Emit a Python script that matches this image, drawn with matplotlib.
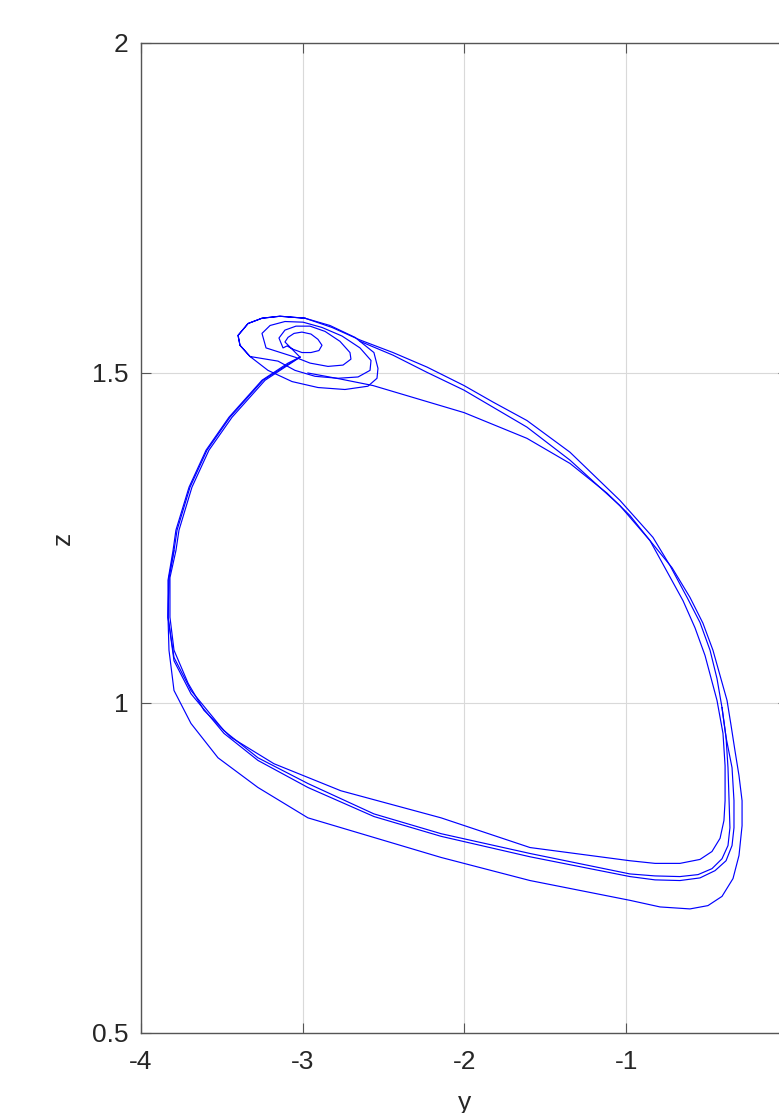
import numpy as np
import matplotlib.pyplot as plt

plt.rcParams['font.family'] = ['Liberation Sans', 'DejaVu Sans']
plt.rcParams['axes.unicode_minus'] = False

# spiral around the focus (inner ring first), ends where the top band starts
spiral_y = [-3.017,
            -3.110, -3.091, -3.054, -3.005, -2.949, -2.906, -2.881, -2.900, -2.949, -3.005, -3.060, -3.097,
            -3.122, -3.147, -3.110, -3.042, -2.955, -2.862, -2.770, -2.708, -2.702, -2.751, -2.844, -2.955, -3.048,
            -3.227, -3.252, -3.202, -3.110, -2.998, -2.881, -2.757, -2.646, -2.578, -2.584, -2.658, -2.782, -2.924, -3.048, -3.153,
            -3.326, -3.388, -3.400, -3.338, -3.252, -3.141, -2.986, -2.832, -2.677, -2.560, -2.535, -2.541, -2.597, -2.739, -2.906, -3.066, -3.215,
            -3.326, -3.388, -3.400, -3.338, -3.252, -3.141, -2.986]
spiral_z = [1.524,
            1.547, 1.554, 1.560, 1.562, 1.559, 1.551, 1.542, 1.534, 1.531, 1.531, 1.536, 1.541,
            1.538, 1.553, 1.565, 1.571, 1.571, 1.563, 1.548, 1.531, 1.521, 1.512, 1.510, 1.515, 1.524,
            1.538, 1.560, 1.572, 1.578, 1.577, 1.569, 1.556, 1.538, 1.519, 1.504, 1.494, 1.492, 1.495, 1.504, 1.518,
            1.525, 1.542, 1.557, 1.575, 1.583, 1.586, 1.583, 1.572, 1.554, 1.531, 1.507, 1.492, 1.480, 1.475, 1.478, 1.487, 1.504,
            1.525, 1.542, 1.557, 1.575, 1.583, 1.586, 1.583]

# top band, spiral -> right side
top_y = [-2.986, -2.819, -2.646, -2.442, -2.232, -2.003, -1.824, -1.614, -1.348, -1.039, -0.835, -0.729,
         -0.624, -0.544, -0.482, -0.439, -0.408]
top_z = [1.583, 1.569, 1.550, 1.531, 1.509, 1.481, 1.456, 1.428, 1.380, 1.307, 1.251, 1.208,
         1.160, 1.122, 1.080, 1.037, 0.993]

# main loop: right side, bottom, left side back to the spiral
main_y = [-0.408, -0.383, -0.371, -0.365, -0.359, -0.371, -0.408, -0.470, -0.556, -0.668, -0.822, -0.977,
          -1.595, -2.145, -2.560, -2.968, -3.277, -3.487, -3.691, -3.796, -3.833, -3.827, -3.796, -3.777,
          -3.697, -3.592, -3.450, -3.246, -3.079, -3.017]
main_z = [0.993, 0.948, 0.902, 0.857, 0.811, 0.784, 0.764, 0.749, 0.740, 0.737, 0.738, 0.741,
          0.772, 0.802, 0.832, 0.878, 0.917, 0.958, 1.019, 1.069, 1.130, 1.190, 1.231, 1.262,
          1.327, 1.383, 1.433, 1.489, 1.515, 1.524]

# second pass of the main loop, a little further out
main2_y = [-0.408, -0.383, -0.346, -0.334, -0.334, -0.346, -0.383, -0.451, -0.544, -0.668, -0.822, -0.977,
           -1.595, -2.145, -2.560, -2.968, -3.277, -3.487, -3.691, -3.796, -3.833, -3.827, -3.796]
main2_z = [0.993, 0.948, 0.902, 0.852, 0.811, 0.784, 0.761, 0.746, 0.735, 0.731, 0.732, 0.737,
           0.767, 0.798, 0.828, 0.872, 0.913, 0.954, 1.014, 1.064, 1.130, 1.190, 1.231]

# strand leaving the spiral low, then the inner loop
inner_y = [-2.968, -2.770, -2.566, -2.003, -1.614, -1.348, -1.119, -0.977, -0.853, -0.649, -0.575, -0.513,
           -0.439, -0.402, -0.389, -0.389, -0.396, -0.420, -0.470, -0.544, -0.668, -0.822, -0.977, -1.595,
           -2.145, -2.764, -3.178, -3.444, -3.611, -3.709, -3.796, -3.821, -3.821, -3.784, -3.765, -3.685,
           -3.580, -3.437, -3.233, -3.066, -3.017]
inner_z = [1.500, 1.491, 1.481, 1.440, 1.401, 1.363, 1.318, 1.284, 1.246, 1.155, 1.114, 1.072,
           1.004, 0.954, 0.905, 0.852, 0.822, 0.795, 0.775, 0.763, 0.757, 0.757, 0.761, 0.781,
           0.826, 0.867, 0.908, 0.948, 0.989, 1.030, 1.080, 1.130, 1.190, 1.231, 1.262, 1.327,
           1.383, 1.433, 1.489, 1.516, 1.524]

# outer loop
outer_y = [-2.646, -2.442, -2.232, -2.003, -1.614, -1.348, -1.039, -0.853, -0.717, -0.606, -0.526, -0.464,
           -0.377, -0.352, -0.328, -0.303, -0.284, -0.284, -0.303, -0.340, -0.408, -0.495, -0.606, -0.791,
           -0.977, -1.595, -2.145, -2.968, -3.277, -3.524, -3.691, -3.796, -3.827, -3.833, -3.833, -3.802,
           -3.784, -3.703, -3.598, -3.456, -3.252, -3.091, -3.017]
outer_z = [1.548, 1.527, 1.501, 1.474, 1.418, 1.368, 1.299, 1.246, 1.205, 1.160, 1.121, 1.080,
           1.004, 0.966, 0.928, 0.890, 0.852, 0.814, 0.769, 0.734, 0.707, 0.693, 0.688, 0.691,
           0.701, 0.731, 0.766, 0.826, 0.872, 0.917, 0.969, 1.019, 1.080, 1.130, 1.186, 1.231,
           1.262, 1.327, 1.383, 1.433, 1.489, 1.515, 1.524]

xticks = [-4, -3, -2, -1, 0]
yticks = [0.5, 1, 1.5, 2]

fig = plt.figure(figsize=(7.79, 11.13), dpi=100)
ax = fig.add_axes([141 / 779, 80 / 1113, 647 / 779, 990 / 1113])

line_kw = dict(color=(0, 0, 1), lw=0.85)
for yy, zz in [(spiral_y, spiral_z), (top_y, top_z), (main_y, main_z), (main2_y, main2_z),
               (inner_y, inner_z), (outer_y, outer_z)]:
    ax.plot(yy, zz, **line_kw)

ax.set_xlim(-4, 0)
ax.set_ylim(0.5, 2)
ax.set_xticks(xticks)
ax.set_xticklabels([str(t) for t in xticks])
ax.set_yticks(yticks)
ax.set_yticklabels(['0.5', '1', '1.5', '2'])
ax.grid(True, color='#d9d9d9', lw=0.8)
ax.set_axisbelow(True)

for s in ax.spines.values():
    s.set_color('#555555')
    s.set_linewidth(1.0)
ax.tick_params(direction='in', length=7, width=0.8, color='#555555', top=True, right=True,
               labelsize=19, labelcolor='#262626')
ax.tick_params(axis='x', pad=12)
ax.tick_params(axis='y', pad=9)

ax.set_xlabel('y', fontsize=19, color='#262626')
ax.set_ylabel('z', fontsize=19, color='#262626')
ax.xaxis.set_label_coords(0.5, -0.059)
ax.yaxis.set_label_coords(-0.102, 0.5)

fig.savefig('out.png', dpi=100)
